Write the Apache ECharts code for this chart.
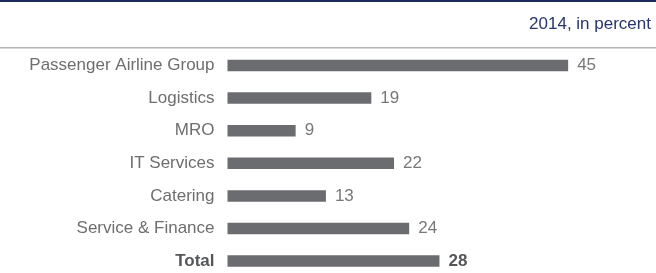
<!DOCTYPE html>
<html>
<head>
<meta charset="utf-8">
<script src="https://cdn.jsdelivr.net/npm/echarts@6/dist/echarts.min.js"></script>
<style>
html,body{margin:0;padding:0;background:#fff;overflow:hidden;}
#c{width:656px;height:280px;}
</style>
</head>
<body>
<div id="c"></div>
<script>
const categories = ["Passenger Airline Group", "Logistics", "MRO", "IT Services", "Catering", "Service & Finance", "Total"];
const values = [45, 19, 9, 22, 13, 24, 28];
const titleText = "2014, in percent";

const FONT = '"Liberation Sans", Arial, Helvetica, sans-serif';
const chart = echarts.init(document.getElementById('c'), null, {renderer: 'canvas'});

const seriesData = values.map((v, i) => ({
  value: v,
  label: categories[i] === 'Total' ? {fontWeight: 'bold', color: '#55565a'} : {}
}));

chart.setOption({
  animation: false,
  backgroundColor: '#fff',
  title: {
    text: titleText,
    right: 0,
    top: 11,
    textStyle: {fontFamily: FONT, fontSize: 17, fontWeight: 'normal', color: '#26356b'}
  },
  graphic: [
    {type: 'rect', shape: {x: 0, y: 0, width: 656, height: 2}, style: {fill: '#1c2a5c'}},
    {type: 'rect', shape: {x: 0, y: 47, width: 656, height: 1.5}, style: {fill: '#b4b4b4'}}
  ],
  grid: {left: 227.5, right: 50, top: 49.2, height: 228.2, containLabel: false},
  xAxis: {type: 'value', min: 0, max: 50, show: false},
  yAxis: {
    type: 'category',
    data: categories,
    inverse: true,
    axisLine: {show: false},
    axisTick: {show: false},
    axisLabel: {
      margin: 13,
      fontFamily: FONT,
      fontSize: 17,
      color: '#6e6e70',
      formatter: function (v) { return v === 'Total' ? '{b|' + v + '}' : v; },
      rich: {b: {fontWeight: 'bold', fontSize: 17, fontFamily: FONT, color: '#55565a'}}
    }
  },
  series: [{
    type: 'bar',
    data: seriesData,
    barWidth: 11.5,
    itemStyle: {color: '#6b6c70'},
    label: {
      show: true,
      position: 'right',
      distance: 9,
      fontFamily: FONT,
      fontSize: 17,
      color: '#78787a'
    }
  }]
});
</script>
</body>
</html>
